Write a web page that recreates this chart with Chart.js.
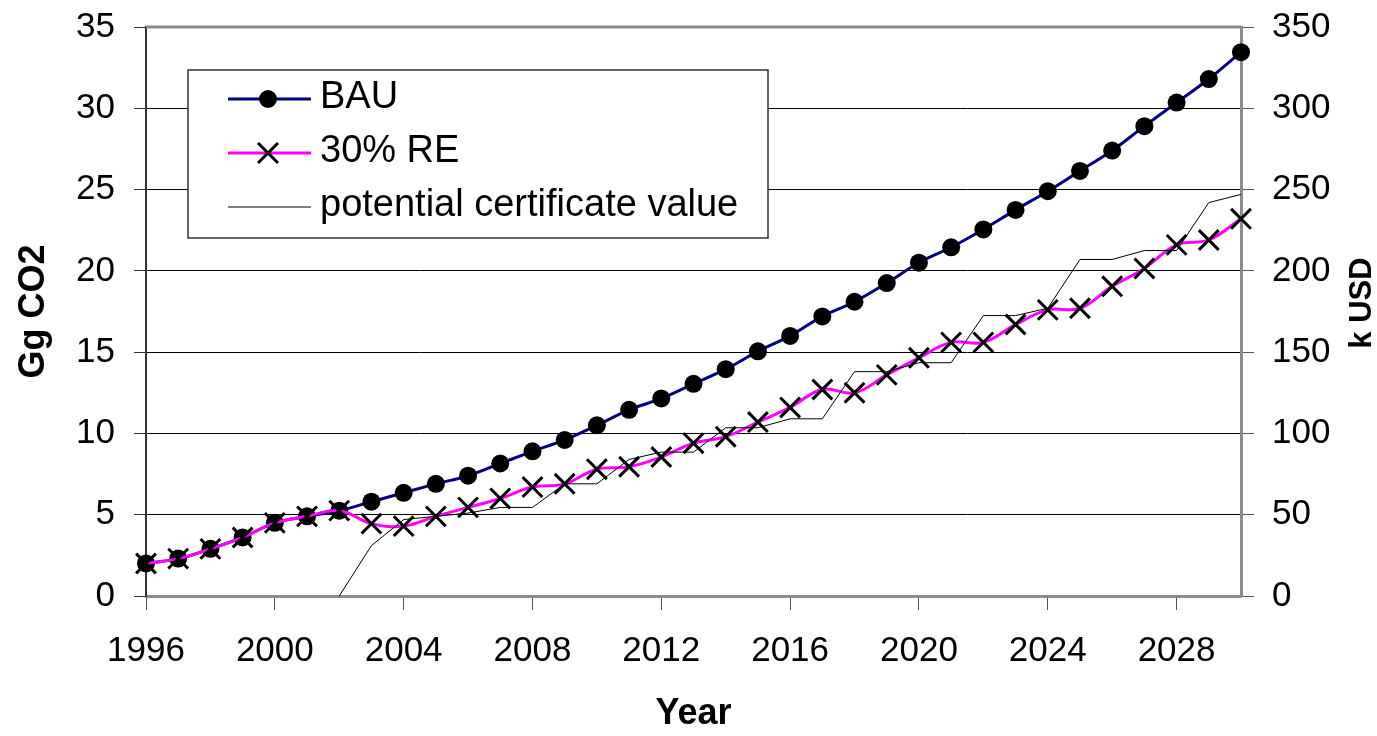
<!DOCTYPE html>
<html>
<head>
<meta charset="utf-8">
<script src="https://cdn.jsdelivr.net/npm/chart.js@4/dist/chart.umd.min.js"></script>
<style>
    html, body { margin: 0; padding: 0; background: #fff; }
    #wrap { position: relative; width: 1377px; height: 736px; }
</style>
</head>
<body>
<div id="wrap"><canvas id="co2-chart"></canvas></div>
<script>
// years on the category axis
const years = [];
for (let y = 1996; y <= 2030; y++) years.push(String(y));

// Gg CO2, business as usual
const bau = [2.0, 2.3, 2.9, 3.6, 4.5, 4.9, 5.25, 5.8, 6.35, 6.9,
    7.4, 8.15, 8.9, 9.6, 10.5, 11.45, 12.15, 13.05, 13.95, 15.05,
    16.0, 17.2, 18.1, 19.25, 20.5, 21.45, 22.55, 23.75, 24.9, 26.15,
    27.4, 28.9, 30.35, 31.8, 33.45];

// Gg CO2, 30% renewable energy
const re30 = [2.0, 2.3, 2.9, 3.6, 4.5, 4.9, 5.25, 4.45, 4.3, 4.9,
    5.45, 6.0, 6.7, 6.9, 7.8, 7.95, 8.55, 9.4, 9.8, 10.7,
    11.6, 12.7, 12.5, 13.6, 14.65, 15.6, 15.6, 16.7, 17.6, 17.7,
    19.05, 20.15, 21.6, 21.9, 23.2];

// k USD, potential certificate value (right axis)
const certValue = [null, null, null, null, null, null, 0, 31, 47, 49,
    51, 54.5, 54.5, 69, 69, 84, 88.5, 88.5, 103.5, 103.5,
    109, 109, 138, 138, 143.5, 143.5, 172.5, 172.5, 177, 207,
    207, 212.5, 212.5, 242, 247];

const legendItems = [
    {label: "BAU", color: "#000080", width: 3, marker: "circle"},
    {label: "30% RE", color: "#ff00ff", width: 3, marker: "cross"},
    {label: "potential certificate value", color: "#000", width: 1, marker: null}
];

const FONT = "'Liberation Sans', Arial, sans-serif";

// white legend box inside the plot, gray top frame line, right axis title
const boxLegend = {
    id: "boxLegend",
    afterDraw(chart) {
        const ctx = chart.ctx;
        const area = chart.chartArea;
        ctx.save();
        ctx.strokeStyle = "#8c8c8c";
        ctx.lineWidth = 3;
        ctx.beginPath();
        ctx.moveTo(area.left, area.top);
        ctx.lineTo(area.right, area.top);
        ctx.stroke();

        const bx = 188, by = 70, bw = 580, bh = 168;
        ctx.fillStyle = "#fff";
        ctx.fillRect(bx, by, bw, bh);
        ctx.strokeStyle = "#333";
        ctx.lineWidth = 1.5;
        ctx.strokeRect(bx, by, bw, bh);

        ctx.font = "38px " + FONT;
        ctx.textBaseline = "alphabetic";
        ctx.textAlign = "left";
        legendItems.forEach((it, i) => {
            const ly = 99 + i * 54;
            ctx.strokeStyle = it.color;
            ctx.lineWidth = it.width;
            ctx.beginPath();
            ctx.moveTo(228, ly);
            ctx.lineTo(311, ly);
            ctx.stroke();
            ctx.fillStyle = "#000";
            ctx.strokeStyle = "#000";
            if (it.marker === "circle") {
                ctx.beginPath();
                ctx.arc(268, ly, 9, 0, Math.PI * 2);
                ctx.fill();
            } else if (it.marker === "cross") {
                ctx.lineWidth = 3;
                ctx.beginPath();
                ctx.moveTo(258, ly - 10); ctx.lineTo(278, ly + 10);
                ctx.moveTo(278, ly - 10); ctx.lineTo(258, ly + 10);
                ctx.stroke();
            }
            ctx.fillText(it.label, 320, ly + 9);
        });

        // right axis title reads bottom-to-top like the left one
        ctx.translate(1362, 303);
        ctx.rotate(-Math.PI / 2);
        ctx.font = "bold 31px " + FONT;
        ctx.textAlign = "center";
        ctx.textBaseline = "middle";
        ctx.fillText("k USD", 0, 0);
        ctx.restore();
    }
};

const tickFont = {family: FONT, size: 35};

// fixed axis sizes so the plot area sits where the original one does
const fitY = (w) => (scale) => {
    scale.width = w;
    scale.paddingTop = 0;
    scale.paddingBottom = 0;
};

new Chart(document.getElementById("co2-chart"), {
    type: "line",
    data: {
        labels: years,
        datasets: [
            {
                label: "BAU",
                data: bau,
                yAxisID: "y",
                borderColor: "#000080",
                borderWidth: 3,
                tension: 0.4,
                pointStyle: "circle",
                pointRadius: 9,
                pointBackgroundColor: "#000",
                pointBorderColor: "#000",
                pointBorderWidth: 0,
                clip: false,
                order: 3
            },
            {
                label: "30% RE",
                data: re30,
                yAxisID: "y",
                borderColor: "#ff00ff",
                borderWidth: 3,
                tension: 0.4,
                pointStyle: "crossRot",
                pointRadius: 14,
                pointBorderColor: "#000",
                pointBorderWidth: 3,
                clip: false,
                order: 2
            },
            {
                label: "potential certificate value",
                data: certValue,
                yAxisID: "y1",
                borderColor: "#000",
                borderWidth: 1,
                tension: 0,
                pointRadius: 0,
                clip: false,
                order: 1
            }
        ]
    },
    options: {
        responsive: true,
        maintainAspectRatio: false,
        animation: false,
        layout: {padding: {top: 27, left: 0, right: 0, bottom: 0}},
        plugins: {
            legend: {display: false},
            tooltip: {enabled: false}
        },
        scales: {
            x: {
                type: "category",
                offset: false,
                afterFit: (scale) => {
                    scale.height = 140;
                    scale.paddingLeft = 0;
                    scale.paddingRight = 0;
                },
                grid: {
                    drawOnChartArea: false,
                    offset: false,
                    tickLength: 14,
                    tickColor: (c) => (c.index % 4 === 0 ? "#555" : "rgba(0,0,0,0)")
                },
                border: {color: "#8c8c8c", width: 3},
                ticks: {
                    autoSkip: false,
                    maxRotation: 0,
                    padding: 20,
                    color: "#000",
                    font: tickFont,
                    callback: function (val, idx) {
                        return idx % 4 === 0 ? this.getLabelForValue(val) : "";
                    }
                },
                title: {
                    display: true,
                    text: "Year",
                    color: "#000",
                    font: {family: FONT, size: 36, weight: "bold"},
                    padding: {top: 0, bottom: 0}
                }
            },
            y: {
                position: "left",
                min: 0,
                max: 35,
                afterFit: fitY(146),
                grid: {color: "#000", lineWidth: 1, tickLength: 12, tickColor: "#333"},
                border: {color: "#333", width: 2},
                ticks: {stepSize: 5, padding: 19, color: "#000", font: tickFont},
                title: {
                    display: true,
                    text: "Gg CO2",
                    color: "#000",
                    font: {family: FONT, size: 36, weight: "bold"},
                    padding: {top: 12, bottom: 0}
                }
            },
            y1: {
                position: "right",
                min: 0,
                max: 350,
                afterFit: fitY(136),
                grid: {drawOnChartArea: false, tickLength: 13, tickColor: "#555"},
                border: {color: "#8c8c8c", width: 3},
                ticks: {stepSize: 50, padding: 18, color: "#000", font: tickFont}
            }
        }
    },
    plugins: [boxLegend]
});
</script>
</body>
</html>
